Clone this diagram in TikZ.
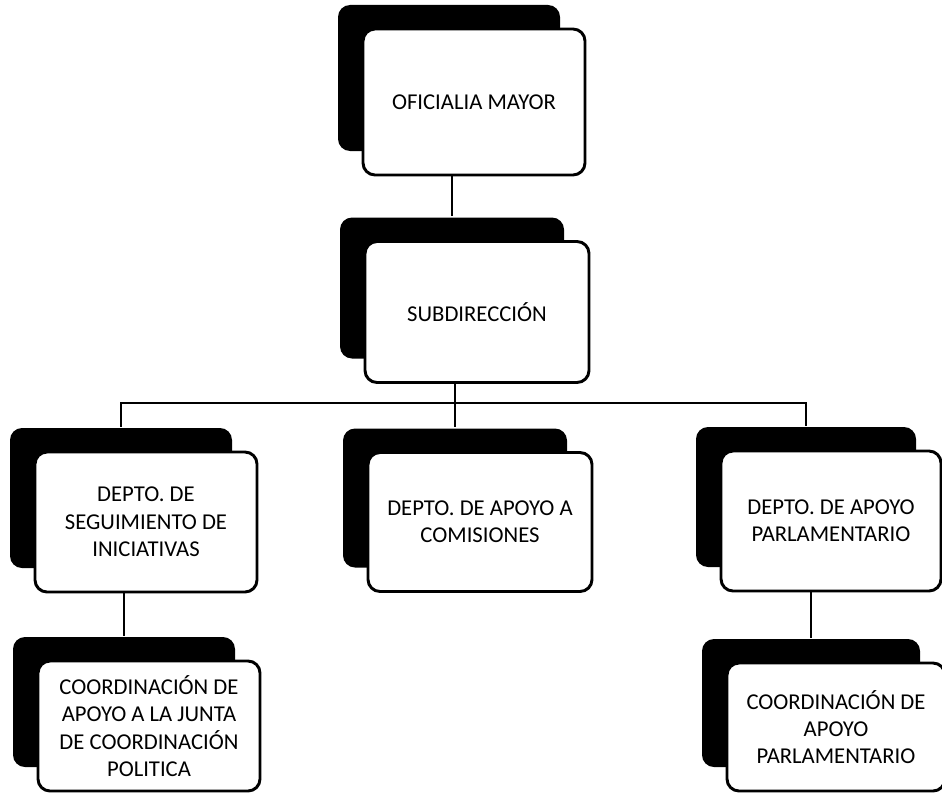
\documentclass[tikz,border=0pt]{standalone}
\usepackage{fontspec}
\setmainfont{Carlito}
\usetikzlibrary{shadows}
\begin{document}
\begin{tikzpicture}[x=0.75pt,y=-0.75pt,
  orgbox/.style={draw=black, line width=2.2pt, fill=white, rounded corners=9pt,
    inner sep=0pt, align=center, font=\fontsize{17}{20.5}\selectfont,
    general shadow={fill=black, shadow xshift=-18.75pt, shadow yshift=18pt}},
  conn/.style={draw=black, line width=2.2pt}]
\useasboundingbox (0,0) rectangle (942,799);
\node[orgbox, minimum width=166.5pt, minimum height=109.5pt] (om) at (474,102) {OFICIALIA MAYOR};
\node[orgbox, minimum width=168pt, minimum height=105.75pt] (sub) at (477,312) {SUBDIRECCIÓN};
\node[orgbox, minimum width=166.5pt, minimum height=105pt] (d1) at (146,522) {DEPTO. DE\\SEGUIMIENTO DE\\INICIATIVAS};
\node[orgbox, minimum width=168pt, minimum height=104.25pt] (d2) at (480,522) {DEPTO. DE APOYO A\\COMISIONES};
\node[orgbox, minimum width=165pt, minimum height=105pt] (d3) at (831,521) {DEPTO. DE APOYO\\PARLAMENTARIO};
\node[orgbox, minimum width=166.5pt, minimum height=97.5pt] (c1) at (149,726) {COORDINACIÓN DE\\APOYO A LA JUNTA\\DE COORDINACIÓN\\POLITICA};
\node[orgbox, minimum width=163.5pt, minimum height=96pt] (c2) at (836,727) {COORDINACIÓN DE\\APOYO\\PARLAMENTARIO};
% shadow tops
\coordinate (subs) at ([xshift=-18.75pt,yshift=18pt]sub.north);
\coordinate (d1s) at ([xshift=-18.75pt,yshift=18pt]d1.north);
\coordinate (d2s) at ([xshift=-18.75pt,yshift=18pt]d2.north);
\coordinate (d3s) at ([xshift=-18.75pt,yshift=18pt]d3.north);
\coordinate (c1s) at ([xshift=-18.75pt,yshift=18pt]c1.north);
\coordinate (c2s) at ([xshift=-18.75pt,yshift=18pt]c2.north);
\coordinate (bus) at (0,403);
\draw[conn] (om.south -| subs) -- (subs);
\draw[conn] (sub.south -| d2s) -- (d2s);
\draw[conn] (d1s) -- (d1s |- bus) -- (d3s |- bus) -- (d3s);
\draw[conn] (d1.south -| c1s) -- (c1s);
\draw[conn] (d3.south -| c2s) -- (c2s);
\end{tikzpicture}
\end{document}
